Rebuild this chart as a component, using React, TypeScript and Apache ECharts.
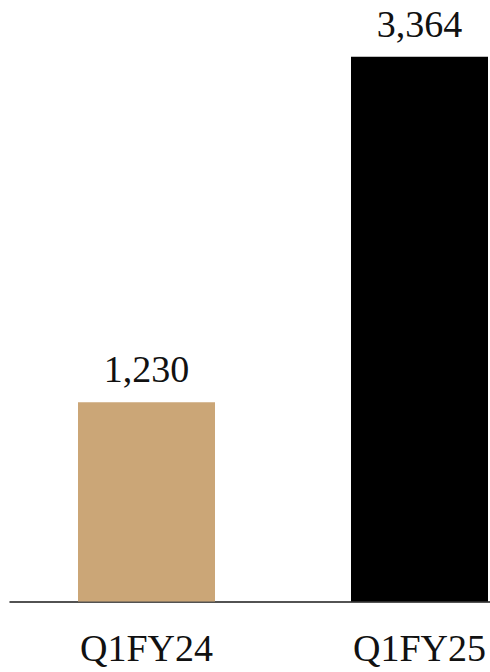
import React, { useEffect, useRef } from "react";
import * as echarts from "echarts";

const categories = ["Q1FY24", "Q1FY25"];
const values = [1230, 3364];
const barColors = ["#CBA677", "#000000"];

export default function App() {
  const ref = useRef<HTMLDivElement>(null);
  useEffect(() => {
    if (!ref.current) return;
    const chart = echarts.init(ref.current, undefined, { renderer: "svg" });
    const font = "'Liberation Serif', 'Times New Roman', serif";
    chart.setOption({
      animation: false,
      backgroundColor: "#ffffff",
      grid: { left: 10, right: 0, top: 56.7, bottom: 70.5, containLabel: false },
      xAxis: {
        type: "category",
        data: categories,
        axisLine: { show: true, lineStyle: { color: "#1a1a1a", width: 1.5 } },
        axisTick: { show: false },
        axisLabel: { color: "#111", fontSize: 38, fontFamily: font, margin: 27 },
      },
      yAxis: {
        type: "value",
        min: 0,
        max: 3364,
        show: false,
        splitLine: { show: false },
      },
      series: [
        {
          type: "bar",
          barWidth: 137,
          data: values.map((v, i) => ({ value: v, itemStyle: { color: barColors[i] } })),
          label: {
            show: true,
            position: "top",
            distance: 14,
            color: "#111",
            fontSize: 38,
            fontFamily: font,
            formatter: (p: any) => Number(p.value).toLocaleString("en-US"),
          },
        },
      ],
    });
    return () => chart.dispose();
  }, []);
  return (
    <div
      style={{ position: "fixed", left: 0, top: 0, width: 490, height: 672, overflow: "hidden", background: "#fff" }}
    >
      <div ref={ref} style={{ position: "absolute", left: 0, top: 0, width: 556, height: 672 }} />
    </div>
  );
}
